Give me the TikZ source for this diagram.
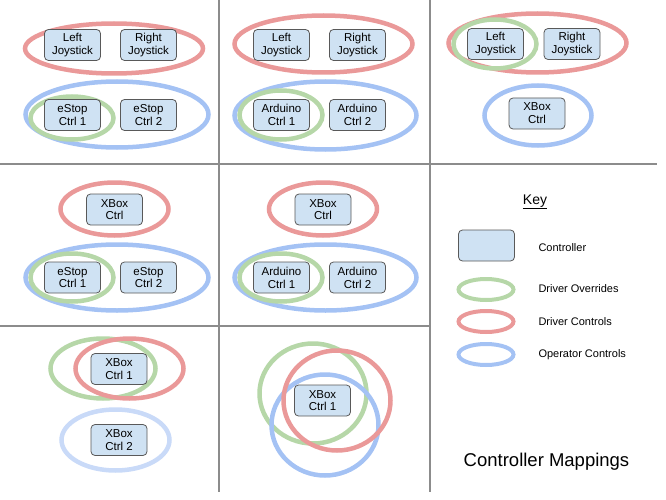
\documentclass[tikz,border=0pt]{standalone}
\usepackage{fontspec}
\setmainfont{Liberation Sans}
\usepackage{xcolor}
\definecolor{gridgray}{HTML}{8C8C8C}
\definecolor{boxfill}{HTML}{CFE2F3}
\definecolor{boxline}{HTML}{595959}
\definecolor{drvred}{HTML}{EA9999}
\definecolor{opblue}{HTML}{A4C2F4}
\definecolor{opblue2}{HTML}{C9DAF8}
\definecolor{ovgreen}{HTML}{B6D7A8}
\tikzset{
  ctrl/.style={draw=boxline, fill=boxfill, line width=0.8pt, rounded corners=4pt,
    minimum width=56pt, minimum height=31pt, align=center, inner sep=1pt,
    font=\fontsize{11.5}{12.8}\selectfont},
  ring/.style={line width=4.5pt},
  override/.style={ring, draw=ovgreen},
  driver/.style={ring, draw=drvred},
  operator/.style={ring, draw=opblue},
  keytext/.style={anchor=west, font=\fontsize{11}{12.5}\selectfont}
}
\begin{document}
\begin{tikzpicture}[x=1pt, y=-1pt]
      \useasboundingbox (0,0) rectangle (666,500);
      % Grid of the cells
      \draw[gridgray, line width=1.4pt] (219,0) -- (219,492);
      \draw[gridgray, line width=1.4pt] (430,0) -- (430,492);
      \draw[gridgray, line width=1.4pt] (0,164) -- (657,164);
      \draw[gridgray, line width=1.4pt] (0,326) -- (430,326);
      % Cell 1: joysticks + eStop controllers
      \draw[driver] (114,48.5) ellipse [x radius=89pt, y radius=25pt];
      \draw[operator] (117,114.5) ellipse [x radius=91.5pt, y radius=33pt];
      \draw[override] (72,118) ellipse [x radius=41.5pt, y radius=21.5pt];
      \node[ctrl] (ljoyA) at (72.5,45) {Left\\Joystick};
      \node[ctrl] (rjoyA) at (148.5,45) {Right\\Joystick};
      \node[ctrl] (estopA1) at (72.5,115) {eStop\\Ctrl 1};
      \node[ctrl] (estopA2) at (148.5,115) {eStop\\Ctrl 2};
      % Cell 2: joysticks + Arduino controllers
      \draw[driver] (323.5,44) ellipse [x radius=89pt, y radius=28.5pt];
      \draw[operator] (325.5,115.5) ellipse [x radius=91pt, y radius=34pt];
      \draw[override] (281,115) ellipse [x radius=41.5pt, y radius=24.5pt];
      \node[ctrl] (ljoyB) at (281.5,45) {Left\\Joystick};
      \node[ctrl] (rjoyB) at (357.5,45) {Right\\Joystick};
      \node[ctrl] (ardB1) at (281.5,115) {Arduino\\Ctrl 1};
      \node[ctrl] (ardB2) at (357.5,115) {Arduino\\Ctrl 2};
      % Cell 3: joysticks + XBox
      \draw[driver] (537.5,43) ellipse [x radius=89pt, y radius=29.5pt];
      \draw[override] (495,44) ellipse [x radius=41.5pt, y radius=24.5pt];
      \draw[operator] (538,115.5) ellipse [x radius=53.5pt, y radius=30pt];
      \node[ctrl] (ljoyC) at (495.5,44) {Left\\Joystick};
      \node[ctrl] (rjoyC) at (572,44) {Right\\Joystick};
      \node[ctrl] (xboxC) at (537,113.5) {XBox\\Ctrl};
      % Cell 4: XBox + eStop controllers
      \draw[driver] (114.5,209) ellipse [x radius=54pt, y radius=26.5pt];
      \draw[operator] (117,277.5) ellipse [x radius=91.5pt, y radius=33pt];
      \draw[override] (72,277.5) ellipse [x radius=41.5pt, y radius=24pt];
      \node[ctrl] (xboxD) at (114.5,209.5) {XBox\\Ctrl};
      \node[ctrl] (estopD1) at (72.5,277.5) {eStop\\Ctrl 1};
      \node[ctrl] (estopD2) at (148.5,277.5) {eStop\\Ctrl 2};
      % Cell 5: XBox + Arduino controllers
      \draw[driver] (323,209) ellipse [x radius=54pt, y radius=26.5pt];
      \draw[operator] (325.5,277.5) ellipse [x radius=91pt, y radius=33pt];
      \draw[override] (281,277.5) ellipse [x radius=41.5pt, y radius=24pt];
      \node[ctrl] (xboxE) at (323,209.5) {XBox\\Ctrl};
      \node[ctrl] (ardE1) at (281.5,277.5) {Arduino\\Ctrl 1};
      \node[ctrl] (ardE2) at (357.5,277.5) {Arduino\\Ctrl 2};
      % Cell 6: two XBox controllers
      \draw[override] (103,368.5) ellipse [x radius=52.5pt, y radius=30pt];
      \draw[driver] (129.5,368.5) ellipse [x radius=54pt, y radius=30pt];
      \draw[ring, draw=opblue2] (115.5,440) ellipse [x radius=54pt, y radius=30.5pt];
      \node[ctrl] (xboxF1) at (119,369) {XBox\\Ctrl 1};
      \node[ctrl] (xboxF2) at (119,440) {XBox\\Ctrl 2};
      % Cell 7: one XBox controller for everything
      \draw[override] (313,393.5) ellipse [x radius=53.5pt, y radius=50pt];
      \draw[operator] (325,425) ellipse [x radius=53.5pt, y radius=50.5pt];
      \draw[driver] (337,400.5) ellipse [x radius=53.5pt, y radius=50pt];
      \node[ctrl] (xboxG) at (322.5,400.5) {XBox\\Ctrl 1};
      % Key
      \node[font=\fontsize{14}{16}\selectfont] (keytitle) at (535,202) {\underline{Key}};
      \node[ctrl] (keybox) at (486.5,245.5) {};
      \node[keytext] (keyctrl) at (535,248) {Controller};
      \draw[override, line width=4pt] (486,289.5) ellipse [x radius=27.5pt, y radius=10.5pt];
      \node[keytext] (keyover) at (535,289) {Driver Overrides};
      \draw[driver, line width=4pt] (486,321.5) ellipse [x radius=27.5pt, y radius=10.5pt];
      \node[keytext] (keydrv) at (535,322) {Driver Controls};
      \draw[operator, line width=4pt] (486,354.5) ellipse [x radius=27.5pt, y radius=10.5pt];
      \node[keytext] (keyop) at (535,354.5) {Operator Controls};
      % Title
      \node[font=\fontsize{18.5}{21}\selectfont] (title) at (546.5,462) {Controller Mappings};
\end{tikzpicture}
\end{document}
